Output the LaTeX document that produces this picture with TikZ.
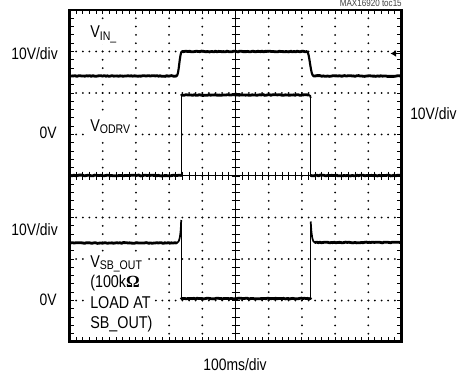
\documentclass[tikz,border=0pt]{standalone}
\usepackage{fontspec}
\setmainfont{Liberation Sans}[FakeStretch=0.84]
\newfontfamily\omegafont{Liberation Serif}
\usetikzlibrary{arrows.meta,decorations.pathmorphing}

\newcommand{\sublbl}[1]{\raisebox{-1.6pt}{\fontsize{9.4}{9}\selectfont #1}}
\newcommand{\axisfont}{\fontsize{12.4}{13}\selectfont}
\newcommand{\tracefont}{\fontsize{12.8}{14}\selectfont}

\begin{document}
\begin{tikzpicture}[x=0.75pt,y=0.75pt,yscale=-1,xscale=1,
  trace/.style={line width=2.1pt,line join=round,line cap=round,
    decorate,decoration={random steps,segment length=1.2pt,amplitude=0.3pt}},
  edge/.style={line width=1pt},
  spike/.style={line width=1.3pt},
  axisline/.style={line width=0.7pt},
  tick/.style={line width=0.7pt},
  tracelbl/.style={anchor=base west,fill=white,inner xsep=1.5pt,inner ysep=1.5pt,text height=10pt,text depth=3pt}]

\useasboundingbox (0,0) rectangle (466,377);
\pgfmathsetseed{16920}

% dotted grid
\foreach \i in {1,2,3,4,6,7,8,9} {
  \foreach \k in {1,...,39} {
    \fill (69.5+33.2*\i,10+8.3*\k) circle (0.75pt);
  }
}
\foreach \j in {1,2,3,5,6,7} {
  \foreach \k in {1,...,49} {
    \fill (69.5+6.64*\k,10+41.5*\j) circle (0.75pt);
  }
}

% centre axes with ticks
\draw [axisline] (235.5,10) -- (235.5,341.5) ;
\draw [axisline] (69.5,175.75) -- (401.5,175.75) ;
\foreach \k in {1,...,39} {
  \draw [tick] (231.5,10+8.3*\k) -- (239.5,10+8.3*\k) ;
  \draw [tick] (69.5,10+8.3*\k) -- (74,10+8.3*\k) ;
  \draw [tick] (401.5,10+8.3*\k) -- (397,10+8.3*\k) ;
}
\foreach \k in {1,...,49} {
  \draw [tick] (69.5+6.64*\k,171.75) -- (69.5+6.64*\k,179.75) ;
  \draw [tick] (69.5+6.64*\k,10) -- (69.5+6.64*\k,14.5) ;
  \draw [tick] (69.5+6.64*\k,341.5) -- (69.5+6.64*\k,337) ;
}

% trace labels
\draw (88,38) node (lblIn) [tracelbl] {\tracefont V\sublbl{IN\_}};
\draw (88,131.7) node (lblOdrv) [tracelbl] {\tracefont V\sublbl{ODRV}};
\draw (88,267) node (lblSb) [tracelbl] {\tracefont V\sublbl{SB\_OUT}};
\draw (88,287.5) node (lblLoad) [tracelbl] {\tracefont (100k{\omegafont\bfseries Ω}};
\draw (88,308) node (lblAt) [tracelbl] {\tracefont LOAD AT};
\draw (88,328.5) node (lblPin) [tracelbl] {\tracefont SB\_OUT)};

% frame
\draw [line width=1.9pt] (69.5,10) -- (401.5,10) -- (401.5,341.5) -- (69.5,341.5) -- cycle ;

% V_IN trace
\draw [trace] (70.5,76) -- (176.5,76) ;
\draw [line width=1.6pt] (176.5,76) .. controls (179,76) and (179.5,52) .. (182,51.5) ;
\draw [trace] (182,51.5) -- (307,51.5) ;
\draw [line width=1.6pt] (307,51.5) .. controls (309.5,51.5) and (310.5,76) .. (313.5,76) ;
\draw [trace] (313.5,76) -- (400.5,76) ;
\draw [-{Latex[length=4.2pt,width=5.2pt]},line width=1pt] (399.5,53.5) -- (390.5,53.5) ;

% V_ODRV trace
\draw [trace] (70.5,175.5) -- (181.5,175.5) ;
\draw [edge] (181.5,175.5) -- (181.5,95) ;
\draw [trace] (181.5,95) -- (308.5,95) ;
\draw [spike] (308.5,95) .. controls (310,95) and (310.7,96) .. (310.7,98) ;
\draw [edge] (310.7,98) -- (310.7,175.5) ;
\draw [trace] (310.7,175.5) -- (400.5,175.5) ;

% V_SB_OUT trace
\draw [trace] (70.5,243) -- (176.5,243) ;
\draw [spike] (176.5,243) .. controls (179.5,243) and (180.7,236) .. (181.2,220) ;
\draw [edge] (181.2,220) -- (181.2,298.5) ;
\draw [trace] (181.2,298.5) -- (310.7,298.5) ;
\draw [edge] (310.7,298.5) -- (310.7,221.5) ;
\draw [spike] (310.7,221.5) .. controls (311.5,236) and (312.5,242.5) .. (315,242.5) ;
\draw [trace] (315,242.5) -- (400.5,242.5) ;

% axis labels
\draw (58,59.3) node (divInA) [anchor=base east][inner sep=0pt] {\axisfont 10V/div};
\draw (57,138.3) node (zeroA) [anchor=base east][inner sep=0pt] {\axisfont 0V};
\draw (58,235) node (divInB) [anchor=base east][inner sep=0pt] {\axisfont 10V/div};
\draw (57,305) node (zeroB) [anchor=base east][inner sep=0pt] {\axisfont 0V};
\draw (410,120) node (divOdrv) [anchor=base west][inner sep=0pt] {\axisfont 10V/div};
\draw (235,370) node (timeDiv) [anchor=base][inner sep=0pt] {\axisfont 100ms/div};
\draw (402,6.5) node (tocNo) [anchor=base east][inner sep=0pt] {\fontsize{7.2}{7}\selectfont\color{black!75}MAX16920 toc15};

\end{tikzpicture}
\end{document}
